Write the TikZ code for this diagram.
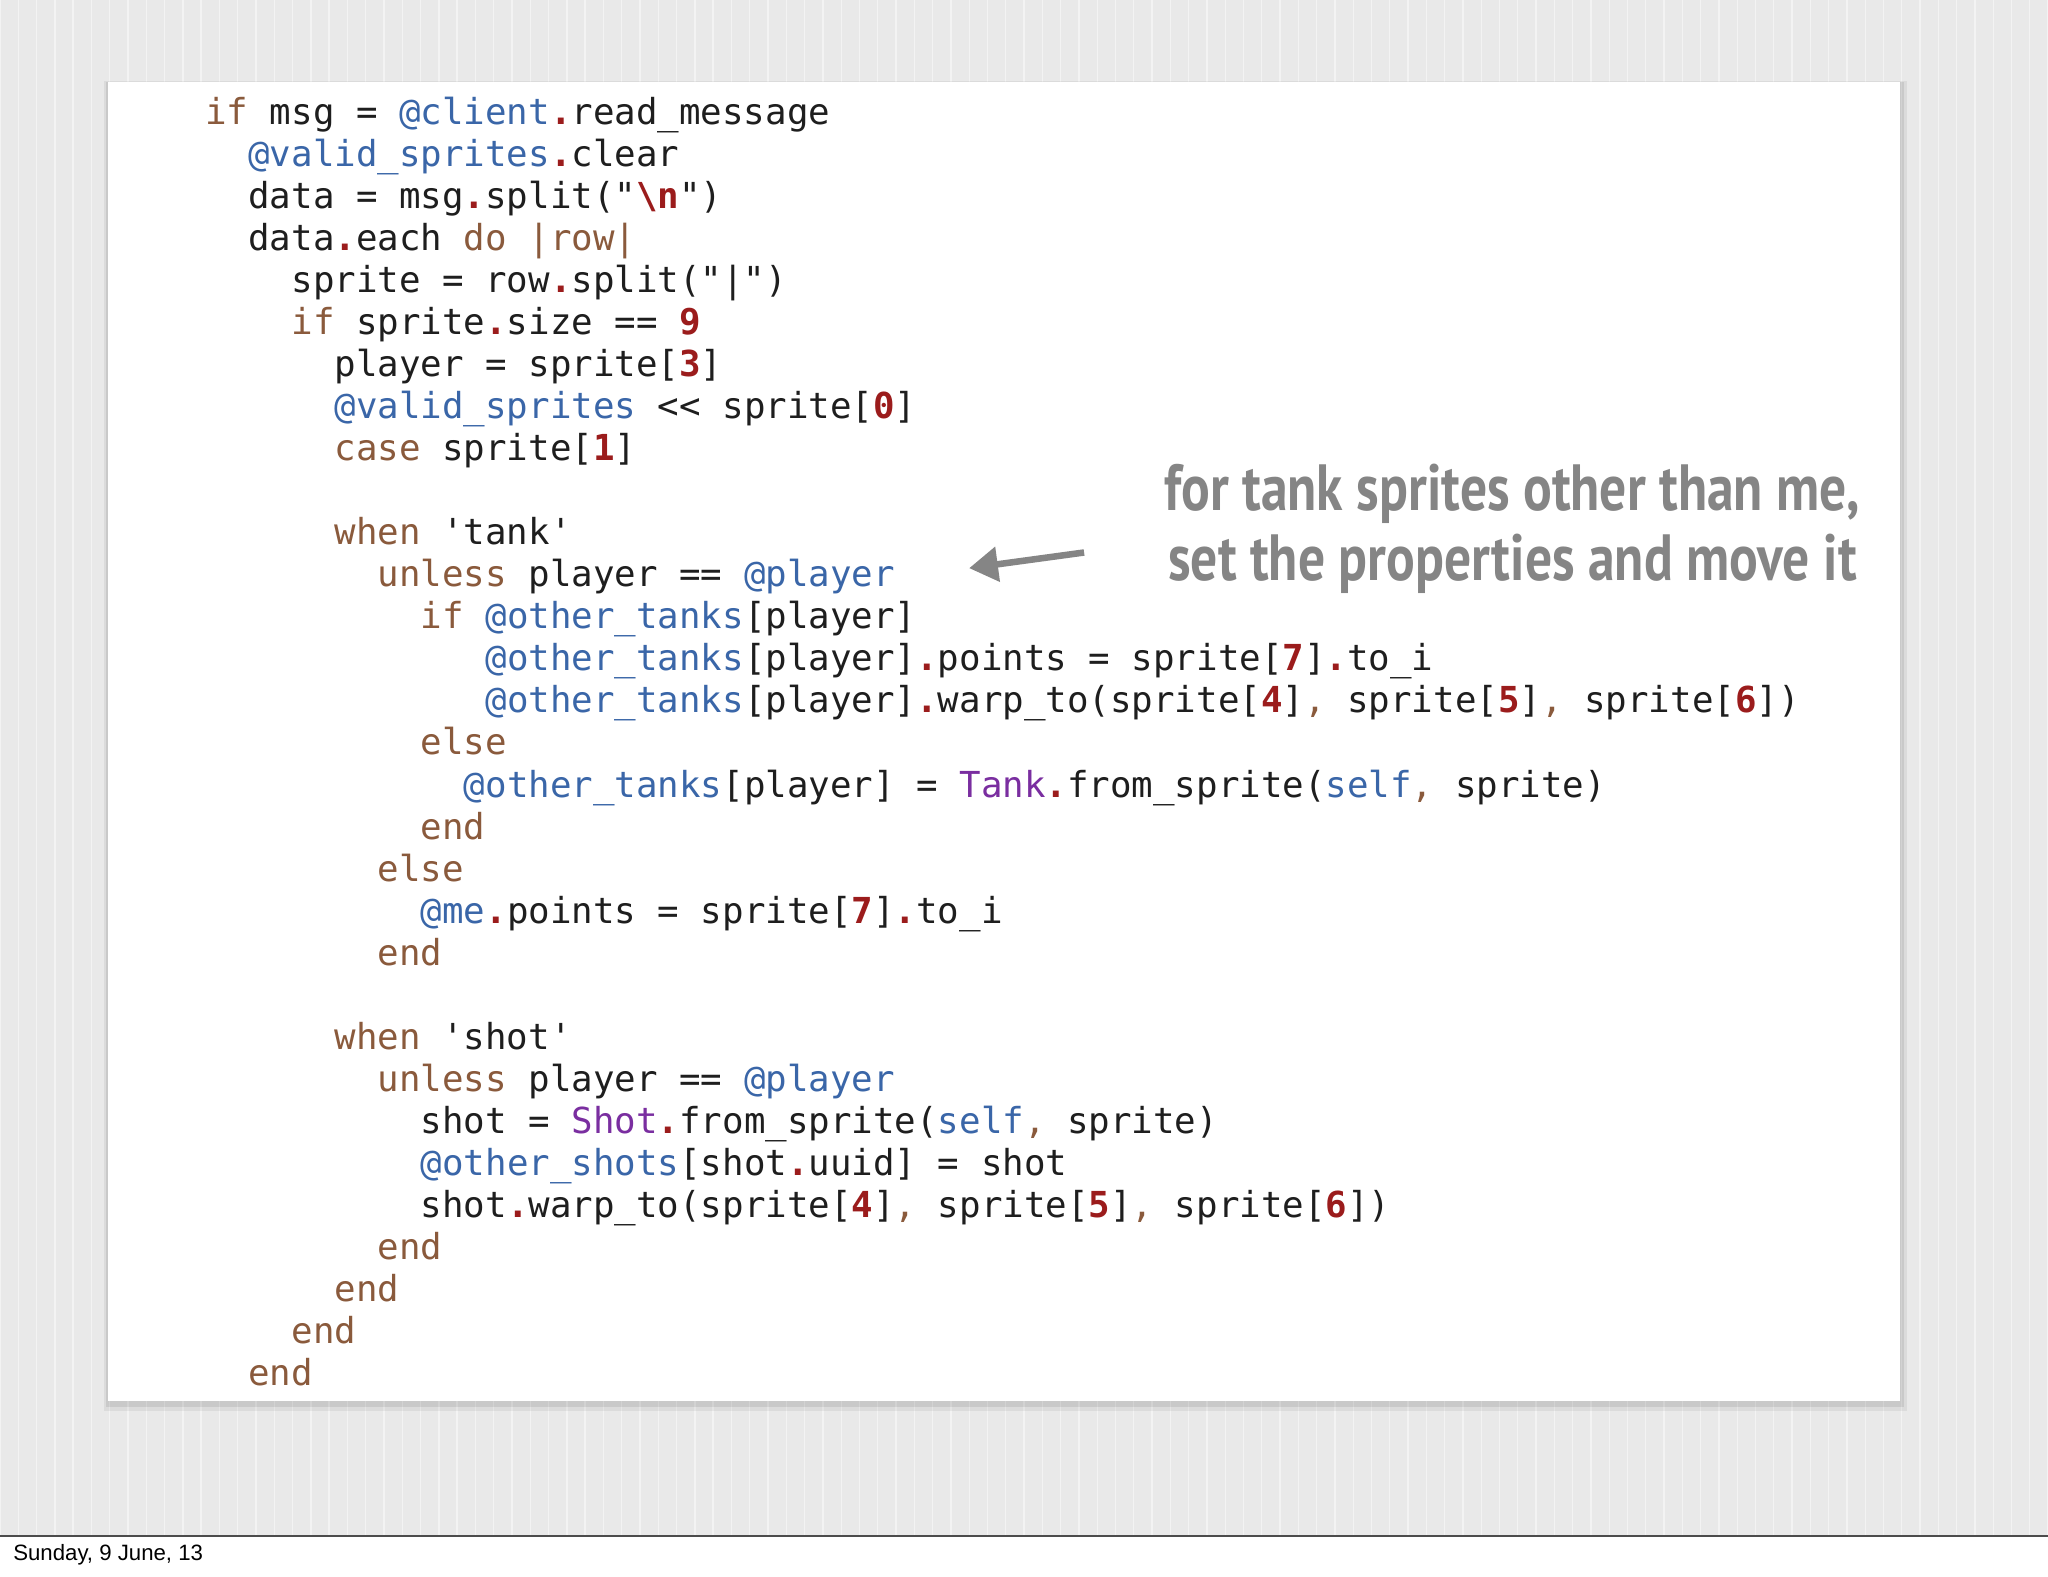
\documentclass[tikz,border=0pt]{standalone}
\usepackage{fontspec}
\setmainfont{Liberation Sans}
\setmonofont{DejaVu Sans Mono}
\newfontfamily\handfont{PT Sans}
\usetikzlibrary{arrows.meta}
\definecolor{kwc}{HTML}{8A5A3C}
\definecolor{ivc}{HTML}{3A66A8}
\definecolor{numc}{HTML}{9B1C1C}
\definecolor{ctc}{HTML}{7A2EA0}
\definecolor{txc}{HTML}{1E1E1E}
\definecolor{bgc}{HTML}{E9E9E9}
\definecolor{gridc}{HTML}{F3F3F3}
\definecolor{notec}{HTML}{858585}
\newcommand\kw[1]{\textcolor{kwc}{#1}}
\newcommand\iv[1]{\textcolor{ivc}{#1}}
\newcommand\nm[1]{\textcolor{numc}{\textbf{#1}}}
\newcommand\ct[1]{\textcolor{ctc}{#1}}
\newcommand\cm[1]{\textcolor{kwc}{#1}}
\newcommand\dt{\textcolor{numc}{\textbf{.}}}
\newcommand\codeln[4]{\node[codeline] (#1) at ({157+16.5*#2},{95+32.2*#3}) {#4};}
\begin{document}
\begin{tikzpicture}[x=1pt,y=-1pt,
  codeline/.style={anchor=base west,inner sep=0pt,text=txc,font=\ttfamily\fontsize{27.4}{30}\selectfont},
  note/.style={text=notec,font=\handfont\bfseries\fontsize{50}{56}\selectfont,inner sep=0pt}]
\useasboundingbox (0,0) rectangle (1568,1207);
\fill[white] (0,0) rectangle (1568,1207);
\fill[bgc] (0,0) rectangle (1568,1176);
\draw[gridc,line width=1pt] (0,0) grid[step=14] (1568,1176);
\draw[black!70,line width=0.8pt] (0,1176) -- (1568,1176);
\node[anchor=west,inner sep=0pt,font=\fontsize{17}{20}\selectfont] (date) at (10,1190) {Sunday, 9 June, 13};
% card shadow
\fill[black,opacity=0.06] (80,62) rectangle (1460,1080);
\fill[black,opacity=0.08] (81,63) rectangle (1458,1077);
\fill[white] (83,63) rectangle (1455,1073);
\codeln{l0}{0}{0}{\kw{if} msg = \iv{@client}\dt read\_message}
\codeln{l1}{2}{1}{\iv{@valid\_sprites}\dt clear}
\codeln{l2}{2}{2}{data = msg\dt split("\nm{\textbackslash n}")}
\codeln{l3}{2}{3}{data\dt each \kw{do} \kw{|row|}}
\codeln{l4}{4}{4}{sprite = row\dt split("|")}
\codeln{l5}{4}{5}{\kw{if} sprite\dt size == \nm{9}}
\codeln{l6}{6}{6}{player = sprite[\nm{3}]}
\codeln{l7}{6}{7}{\iv{@valid\_sprites} << sprite[\nm{0}]}
\codeln{l8}{6}{8}{\kw{case} sprite[\nm{1}]}
\codeln{l10}{6}{10}{\kw{when} 'tank'}
\codeln{l11}{8}{11}{\kw{unless} player == \iv{@player}}
\codeln{l12}{10}{12}{\kw{if} \iv{@other\_tanks}[player]}
\codeln{l13}{13}{13}{\iv{@other\_tanks}[player]\dt points = sprite[\nm{7}]\dt to\_i}
\codeln{l14}{13}{14}{\iv{@other\_tanks}[player]\dt warp\_to(sprite[\nm{4}]\cm{,} sprite[\nm{5}]\cm{,} sprite[\nm{6}])}
\codeln{l15}{10}{15}{\kw{else}}
\codeln{l16}{12}{16}{\iv{@other\_tanks}[player] = \ct{Tank}\dt from\_sprite(\iv{self}\cm{,} sprite)}
\codeln{l17}{10}{17}{\kw{end}}
\codeln{l18}{8}{18}{\kw{else}}
\codeln{l19}{10}{19}{\iv{@me}\dt points = sprite[\nm{7}]\dt to\_i}
\codeln{l20}{8}{20}{\kw{end}}
\codeln{l22}{6}{22}{\kw{when} 'shot'}
\codeln{l23}{8}{23}{\kw{unless} player == \iv{@player}}
\codeln{l24}{10}{24}{shot = \ct{Shot}\dt from\_sprite(\iv{self}\cm{,} sprite)}
\codeln{l25}{10}{25}{\iv{@other\_shots}[shot\dt uuid] = shot}
\codeln{l26}{10}{26}{shot\dt warp\_to(sprite[\nm{4}]\cm{,} sprite[\nm{5}]\cm{,} sprite[\nm{6}])}
\codeln{l27}{8}{27}{\kw{end}}
\codeln{l28}{6}{28}{\kw{end}}
\codeln{l29}{4}{29}{\kw{end}}
\codeln{l30}{2}{30}{\kw{end}}
% annotation
\node[note,xscale=0.82] (n1) at (1158,378) {for tank sprites other than me,};
\node[note,xscale=0.82] (n2) at (1158,432) {set the properties and move it};
\coordinate (as) at (830,423);
\coordinate (ae) at (742,435);
\draw[notec,line width=5pt,-{Triangle[length=22pt,width=26pt]}] (as) -- (ae);
\end{tikzpicture}
\end{document}
